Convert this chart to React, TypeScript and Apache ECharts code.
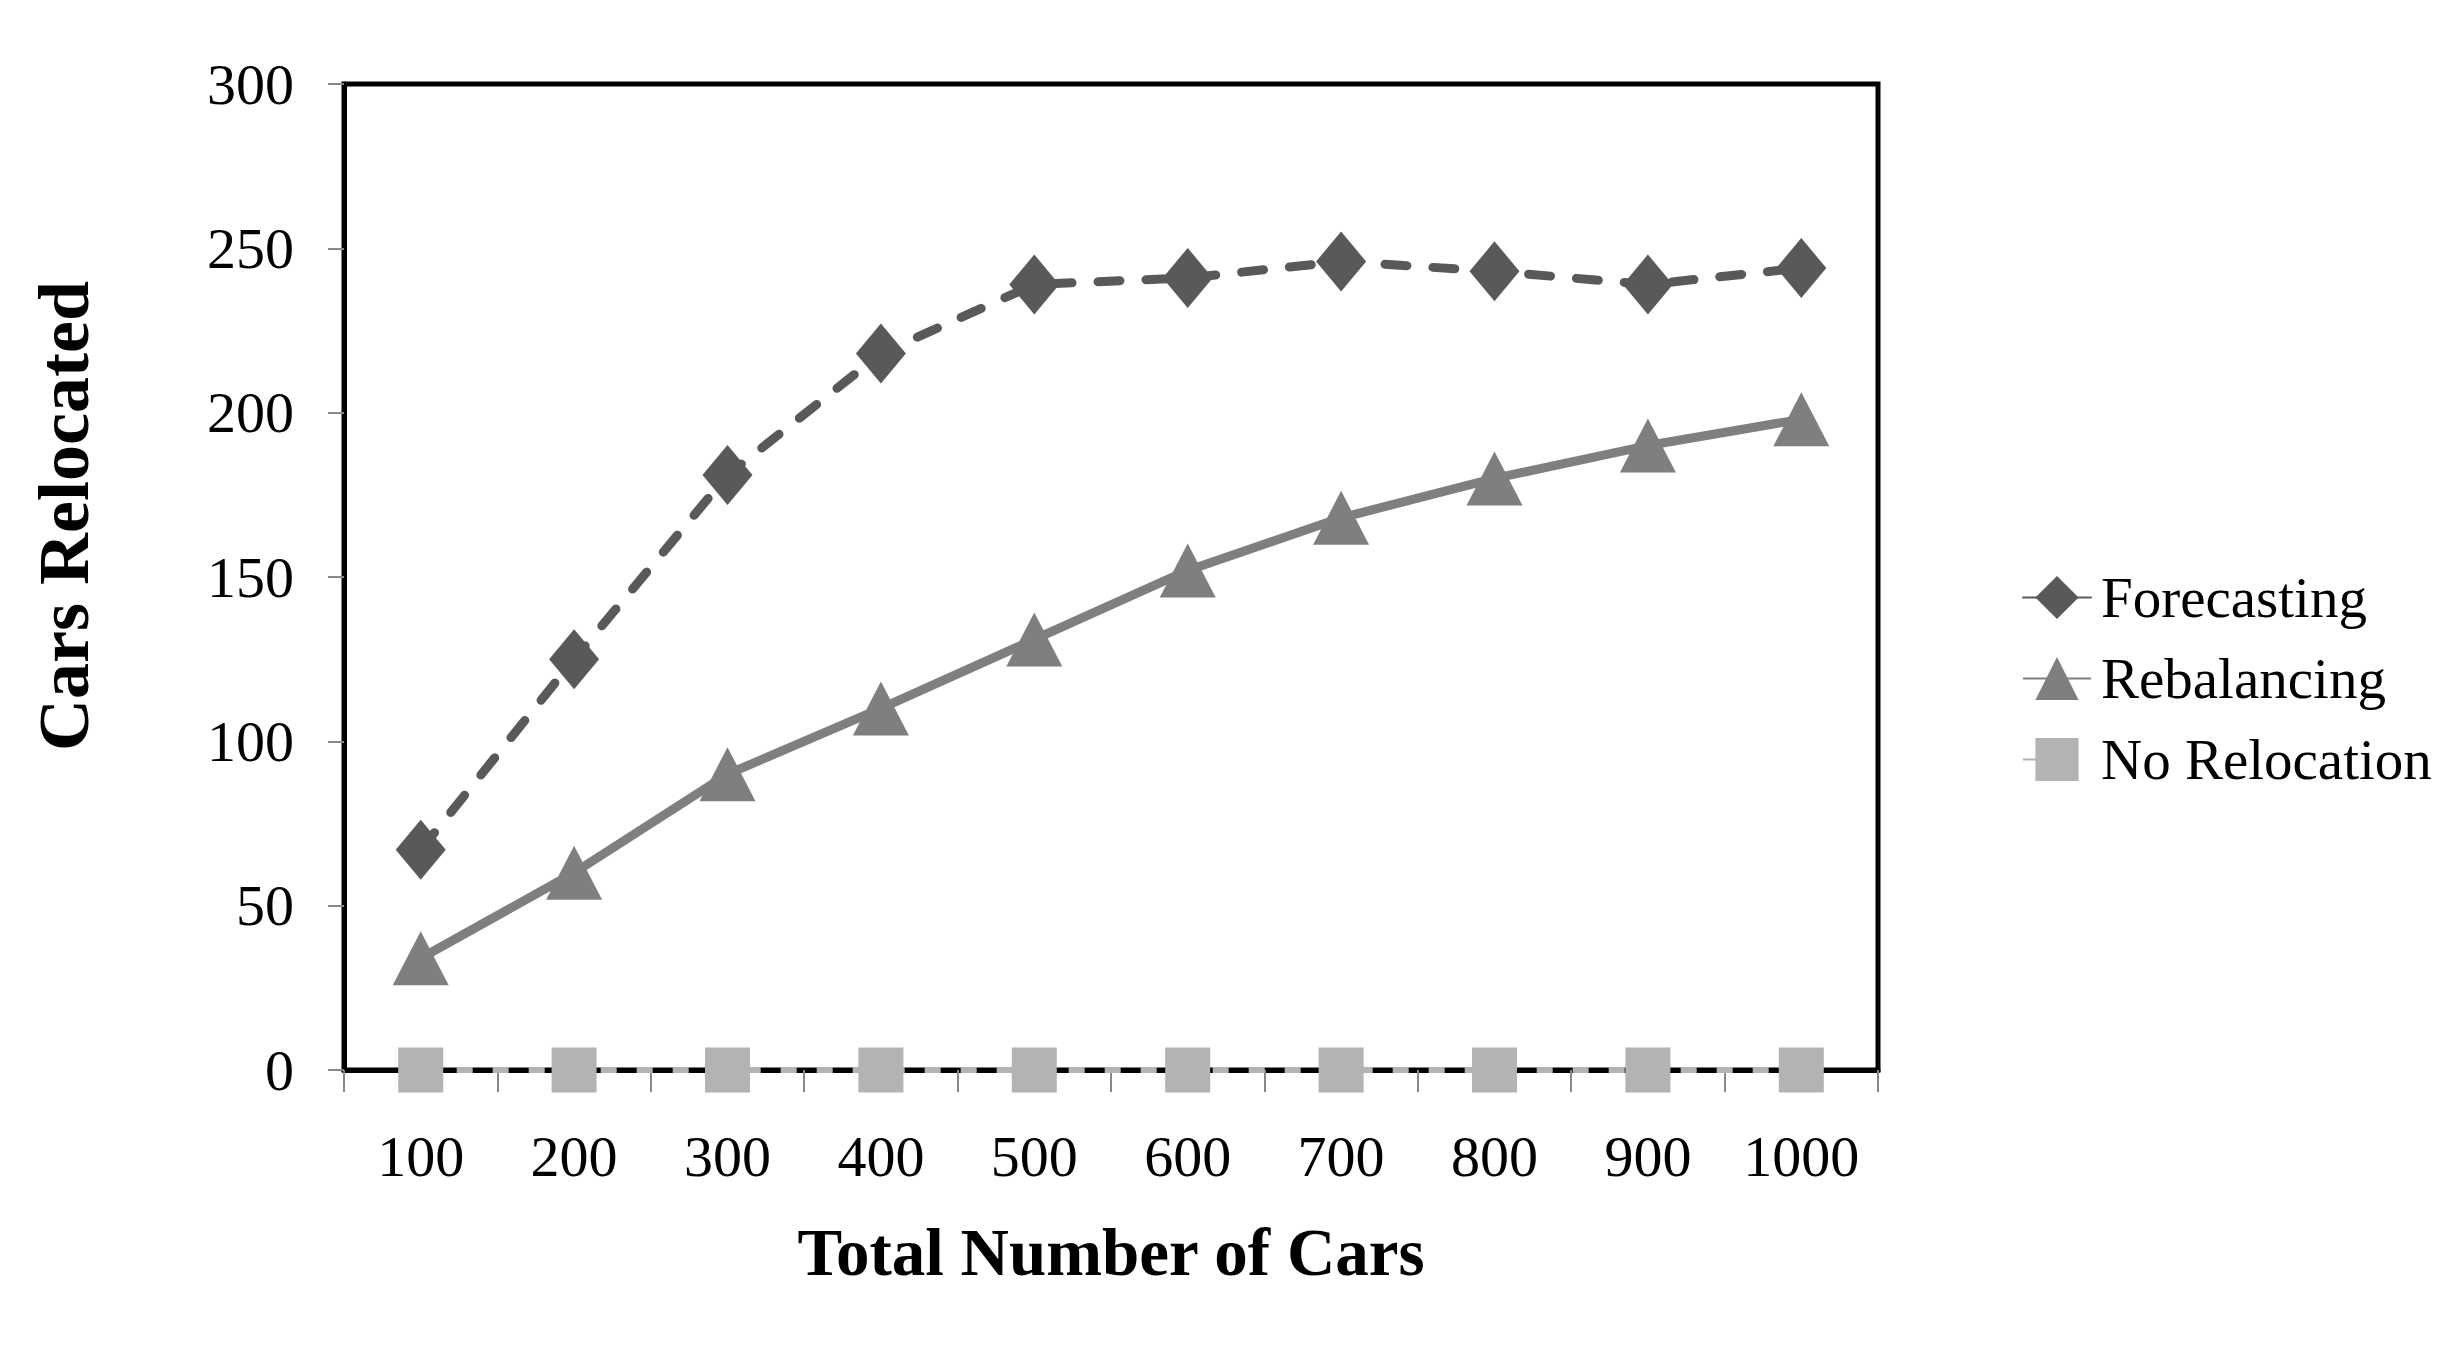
import React, { useEffect, useRef } from "react";
import * as echarts from "echarts";

const categories = ["100", "200", "300", "400", "500", "600", "700", "800", "900", "1000"];
const forecasting = [67, 125, 181, 218, 239, 241, 246, 243, 239, 244];
const rebalancing = [34, 60, 90, 110, 131, 152, 168, 180, 190, 198];
const noRelocation = [0, 0, 0, 0, 0, 0, 0, 0, 0, 0];
const yTicks = { min: 0, max: 300, interval: 50 };
const xTitle = "Total Number of Cars";
const yTitle = "Cars Relocated";

const FONT = "'Liberation Serif', 'DejaVu Serif', serif";

export default function App() {
  const ref = useRef<HTMLDivElement>(null);
  useEffect(() => {
    document.body.style.margin = "0";
    const chart = echarts.init(ref.current!, null, { renderer: "svg" });
    chart.setOption({
      animation: false,
      backgroundColor: "#ffffff",
      grid: {
        left: 344,
        right: 584,
        top: 84,
        bottom: 280,
        show: true,
        borderColor: "#000000",
        borderWidth: 5,
        backgroundColor: "transparent",
      },
      legend: {
        orient: "vertical",
        left: 2022,
        top: 569,
        padding: 0,
        itemWidth: 68,
        itemHeight: 54,
        itemGap: 24,
        textStyle: { fontFamily: FONT, fontSize: 57, color: "#000", padding: [0, 0, 0, 5] },
        data: ["Forecasting", "Rebalancing", "No Relocation"],
      },
      xAxis: {
        type: "category",
        data: categories,
        boundaryGap: true,
        name: xTitle,
        nameLocation: "middle",
        nameGap: 148,
        nameTextStyle: { fontFamily: FONT, fontSize: 67, fontWeight: "bold", color: "#000" },
        axisLine: { show: true, lineStyle: { color: "#000", width: 5 } },
        axisTick: { show: true, length: 22, lineStyle: { color: "#888", width: 2 }, alignWithLabel: false },
        axisLabel: { fontFamily: FONT, fontSize: 58, color: "#000", margin: 57 },
        splitLine: { show: false },
      },
      yAxis: {
        type: "value",
        min: yTicks.min,
        max: yTicks.max,
        interval: yTicks.interval,
        axisLine: { show: true, lineStyle: { color: "#000", width: 5 } },
        axisTick: { show: true, length: 16, lineStyle: { color: "#888", width: 2 } },
        axisLabel: { fontFamily: FONT, fontSize: 58, color: "#000", margin: 50 },
        splitLine: { show: false },
      },
      graphic: [
        {
          type: "text",
          x: 64,
          y: 516,
          rotation: Math.PI / 2,
          style: {
            text: yTitle,
            fontFamily: FONT,
            fontSize: 72,
            fontWeight: "bold",
            fill: "#000",
            textAlign: "center",
            textVerticalAlign: "middle",
          },
        },
      ],
      series: [
        {
          name: "No Relocation",
          type: "line",
          data: noRelocation,
          symbol: "rect",
          symbolSize: 45,
          itemStyle: { color: "#b3b3b3" },
          lineStyle: { color: "#b3b3b3", width: 6, type: [16, 20] },
          z: 3,
        },
        {
          name: "Rebalancing",
          type: "line",
          data: rebalancing,
          symbol: "triangle",
          symbolSize: [56, 54],
          itemStyle: { color: "#7f7f7f" },
          lineStyle: { color: "#7f7f7f", width: 9 },
          z: 4,
        },
        {
          name: "Forecasting",
          type: "line",
          data: forecasting,
          symbol: "diamond",
          symbolSize: [50, 60],
          itemStyle: { color: "#595959" },
          lineStyle: { color: "#595959", width: 9, type: [22, 26], cap: "round" },
          z: 5,
        },
      ],
    });
    return () => chart.dispose();
  }, []);
  return <div ref={ref} style={{ width: 2462, height: 1350 }} />;
}
